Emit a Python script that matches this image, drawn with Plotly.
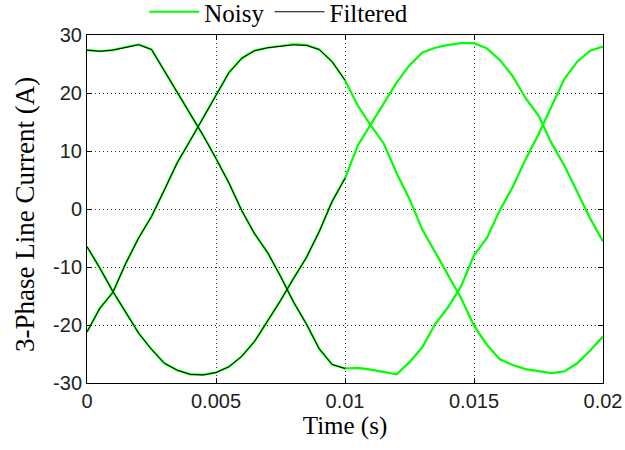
import numpy as np
import plotly.graph_objects as go

# time grid (s), step 0.5 ms
time_s = np.round(np.arange(41) * 0.0005, 4)

# Noisy phase currents (A)
noisy_a = [27.4, 27.2, 27.4, 27.9, 28.4, 27.5, 23.8, 20.1, 16.4, 12.7,
           8.7, 4.5, -0.3, -4.3, -7.5, -11.6, -16.0, -19.8, -24.1, -26.8,
           -27.5, -27.4, -27.7, -28.1, -28.5, -26.4, -23.8, -19.8, -16.9, -13.3,
           -8.0, -5.0, -0.2, 3.8, 8.6, 12.9, 17.6, 22.4, 25.4, 27.3, 28.0]
noisy_b = [-21.2, -17.1, -14.4, -9.4, -5.0, -1.3, 3.3, 8.0, 11.8, 15.7,
           19.7, 23.5, 26.0, 27.3, 27.8, 28.1, 28.4, 28.3, 27.5, 25.4,
           22.2, 17.8, 14.4, 11.3, 6.2, 1.7, -3.6, -7.5, -11.4, -15.4,
           -20.1, -23.4, -25.9, -26.9, -27.6, -28.0, -28.3, -28.0, -26.6, -24.4, -22.0]
noisy_c = [-6.5, -10.2, -14.2, -17.9, -21.4, -24.2, -26.6, -27.8, -28.5, -28.6,
           -28.2, -27.2, -25.4, -22.8, -19.4, -15.8, -12.0, -8.4, -3.9, 1.3,
           5.3, 11.0, 14.6, 18.2, 21.8, 24.8, 27.0, 27.8, 28.3, 28.6,
           28.6, 27.7, 25.7, 22.9, 19.1, 16.1, 11.4, 7.5, 3.0, -1.6, -5.6]

# Filtered phase currents (A), first 10 ms only
filt_time_s = time_s[:21]
filtered_a = [27.4, 27.2, 27.4, 27.9, 28.3, 27.5, 23.8, 20.1, 16.4, 12.7,
              8.7, 4.5, -0.3, -4.3, -7.5, -11.6, -16.0, -19.8, -24.1, -26.8, -27.5]
filtered_b = [-21.2, -17.1, -14.4, -9.4, -5.0, -1.3, 3.3, 8.0, 11.8, 15.7,
              19.7, 23.5, 26.0, 27.3, 27.8, 28.1, 28.3, 28.2, 27.5, 25.4, 22.2]
filtered_c = [-6.5, -10.2, -14.2, -17.9, -21.4, -24.2, -26.6, -27.8, -28.5, -28.6,
              -28.2, -27.2, -25.4, -22.8, -19.4, -15.8, -12.0, -8.4, -3.9, 1.3, 5.3]

x_ticks = [0, 0.005, 0.01, 0.015, 0.02]
x_tick_labels = ["0", "0.005", "0.01", "0.015", "0.02"]
y_ticks = [30, 20, 10, 0, -10, -20, -30]
y_tick_labels = ["30", "20", "10", "0", "-10", "-20", "-30"]

GREEN = "#00FF00"
SERIF = "Liberation Serif, Times New Roman"
fig = go.Figure()
for i, ys in enumerate([noisy_a, noisy_b, noisy_c]):
    fig.add_trace(go.Scatter(x=time_s, y=ys, mode="lines",
                             line=dict(color=GREEN, width=2.2),
                             name="Noisy", legendgroup="noisy",
                             showlegend=(i == 0)))
for i, ys in enumerate([filtered_a, filtered_b, filtered_c]):
    fig.add_trace(go.Scatter(x=filt_time_s, y=ys, mode="lines",
                             line=dict(color="black", width=1.0),
                             name="Filtered", legendgroup="filt",
                             showlegend=(i == 0)))

axis_common = dict(showline=True, linecolor="black", linewidth=1, mirror="ticks",
                   ticks="inside", ticklen=5, tickcolor="black",
                   showgrid=True, gridcolor="#333", griddash="1px,3px", gridwidth=1,
                   zeroline=False, automargin=False,
                   tickfont=dict(family="Liberation Sans, Arial", size=20, color="#222"))

fig.update_layout(
    width=625, height=450,
    margin=dict(l=87, r=22, t=35, b=67, autoexpand=False),
    paper_bgcolor="white", plot_bgcolor="white",
    xaxis=dict(range=[0, 0.02], tickvals=x_ticks, ticktext=x_tick_labels,
               title=dict(text="Time (s)", standoff=4,
                          font=dict(family=SERIF, size=25, color="black")),
               **axis_common),
    yaxis=dict(range=[-30, 30], tickvals=y_ticks, ticktext=y_tick_labels,
               **axis_common),
    legend=dict(orientation="h", x=0.111, xanchor="left", y=1.0, yanchor="bottom",
                font=dict(family=SERIF, size=25, color="black"),
                bgcolor="rgba(0,0,0,0)", tracegroupgap=0, itemwidth=50),
    showlegend=True,
    annotations=[dict(text="3-Phase Line Current (A)", textangle=-90,
                      xref="paper", yref="paper", x=-0.12, y=0.483,
                      xanchor="center", yanchor="middle", showarrow=False,
                      font=dict(family=SERIF, size=27, color="black"))],
)

fig.write_html("out.html", config={"displayModeBar": False},
               post_script="document.body.style.margin='0';document.body.style.overflow='hidden';")
